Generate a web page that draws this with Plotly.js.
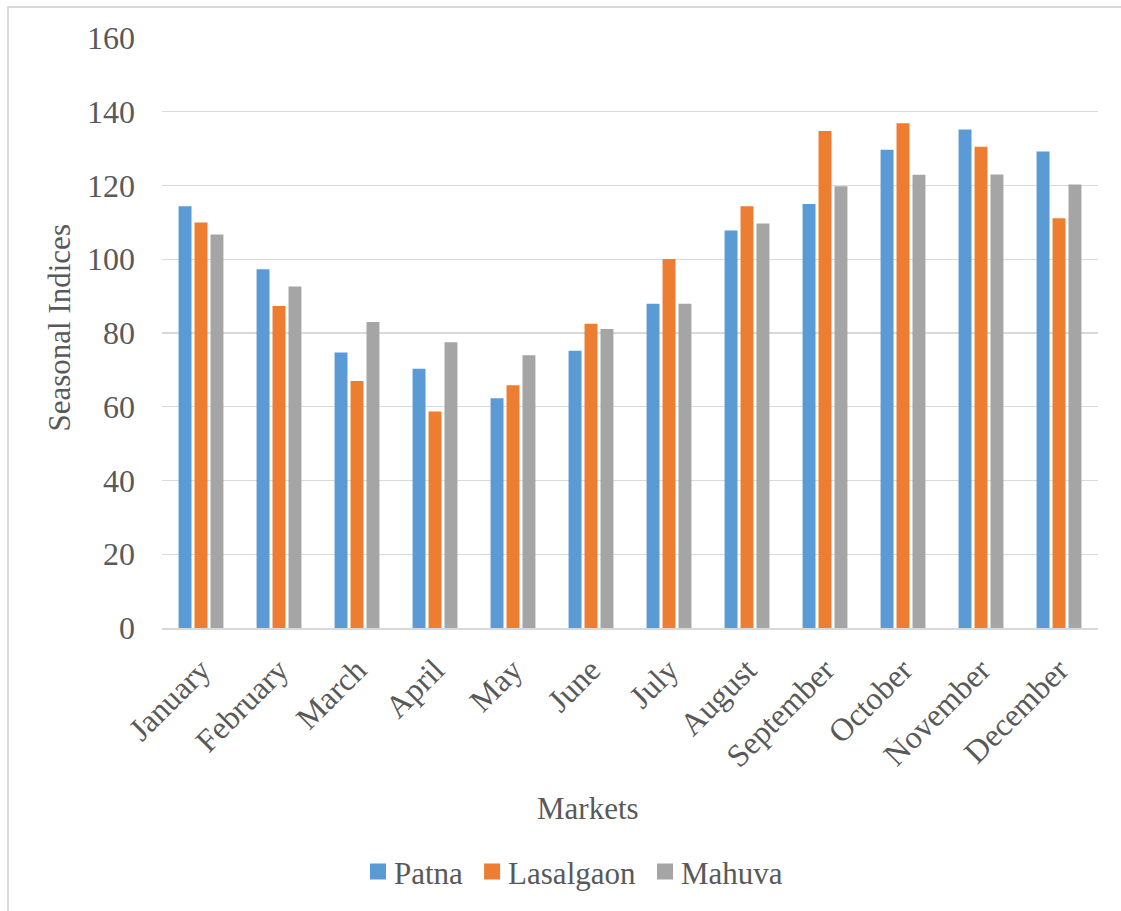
<!DOCTYPE html>
<html>
<head>
<meta charset="utf-8">
<script src="https://cdn.plot.ly/plotly-3.0.1.min.js"></script>
<style>
  html, body { margin: 0; padding: 0; background: #fff; overflow: hidden; }
  #chart { position: absolute; left: 0; top: 0; width: 1121px; height: 911px; }
  #frame { position: absolute; left: 7px; top: 6px; width: 1300px; height: 1100px;
           border-left: 2px solid #dadada; border-top: 2px solid #dadada; pointer-events: none; }
</style>
</head>
<body>
<div id="chart"></div>
<div id="frame"></div>
<script>
const months = ["January","February","March","April","May","June","July","August","September","October","November","December"];
const patna     = [114.4, 97.3, 74.7, 70.3, 62.3, 75.2, 87.9, 107.8, 115.0, 129.7, 135.2, 129.2];
const lasalgaon = [110.0, 87.3, 67.0, 58.7, 65.8, 82.5, 100.1, 114.4, 134.8, 136.9, 130.5, 111.1];
const mahuva    = [106.7, 92.6, 83.0, 77.5, 74.0, 81.1, 87.9, 109.7, 119.8, 122.9, 123.0, 120.3];
const seriesNames = ["Patna", "Lasalgaon", "Mahuva"];
const colors = ["#5B9BD5", "#ED7D31", "#A5A5A5"];

const FONT = "Liberation Serif";
const TXT = "#595959";

const traces = [patna, lasalgaon, mahuva].map((vals, i) => ({
  type: "bar",
  name: seriesNames[i],
  x: months,
  y: vals,
  marker: { color: colors[i] }
}));

const L = 162, R = 23, T = 38, B = 280, W = 1121, H = 911;
const pw = W - L - R, ph = H - T - B;
const px2x = p => (p - L) / pw;
const py2y = p => (H - B - p) / ph;

const layout = {
  width: W, height: H,
  margin: { l: L, r: R, t: T, b: B },
  paper_bgcolor: "#ffffff",
  plot_bgcolor: "#ffffff",
  font: { family: FONT, color: TXT, size: 31 },
  barmode: "group",
  bargap: 0.386,
  bargroupgap: 0.19,
  showlegend: true,
  legend: {
    orientation: "h",
    x: px2x(571), xanchor: "center",
    y: py2y(876), yanchor: "middle",
    font: { family: FONT, size: 31, color: TXT }
  },
  xaxis: {
    type: "category",
    tickangle: -45,
    tickfont: { family: FONT, size: 32, color: TXT },
    ticks: "",
    ticklabelstandoff: 9,
    showgrid: false,
    showline: true,
    linecolor: "#d9d9d9",
    linewidth: 1.5,
    zeroline: false
  },
  yaxis: {
    range: [0, 160],
    dtick: 20,
    tick0: 0,
    ticks: "",
    showline: false,
    zeroline: false,
    gridcolor: "#d9d9d9",
    gridwidth: 1.3,
    tickfont: { family: FONT, size: 32, color: TXT },
    ticklabelstandoff: 26
  },
  annotations: [
    {
      text: "Markets", showarrow: false,
      xref: "paper", yref: "paper",
      x: px2x(588), y: py2y(812), xanchor: "center", yanchor: "middle",
      font: { family: FONT, size: 31, color: TXT }
    },
    {
      text: "Seasonal Indices", showarrow: false, textangle: -90,
      xref: "paper", yref: "paper",
      x: px2x(60), y: py2y(330), xanchor: "center", yanchor: "middle",
      font: { family: FONT, size: 31, color: TXT }
    }
  ]
};

Plotly.newPlot("chart", traces, layout, { displayModeBar: false, staticPlot: true }).then(gd => {
  // reference swatches: 16px squares, 8px before the label
  gd.querySelectorAll(".legend .legendpoints path").forEach(p => {
    p.setAttribute("d", "M12,8H-4V-8H12Z");
  });
});
</script>
</body>
</html>
